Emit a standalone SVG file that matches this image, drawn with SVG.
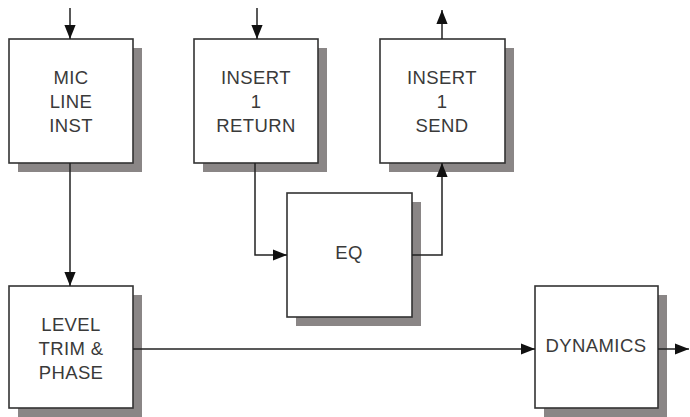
<svg xmlns="http://www.w3.org/2000/svg" width="690" height="417" viewBox="0 0 690 417">
<defs>
<style>
.box{fill:#fff;stroke:#333;stroke-width:1.6}
.sh{fill:#8a8686}
.t{font-family:"Liberation Sans",Arial,sans-serif;font-size:18.5px;letter-spacing:0.4px;fill:#3a3a3a;text-anchor:middle}
.c{fill:none;stroke:#222;stroke-width:1.5}
</style>
<marker id="ahl" viewBox="0 0 10 10" refX="10" refY="5" markerWidth="14" markerHeight="14" markerUnits="userSpaceOnUse" orient="auto"><path d="M0,1 L10,5 L0,9 Z" fill="#111"/></marker>
</defs>
<rect width="690" height="417" fill="#fff"/>
<g id="mic">
<rect class="sh" x="18" y="48" width="124" height="124"/>
<rect class="box" x="9" y="39" width="124" height="124"/>
<text class="t" x="71" y="84">MIC</text>
<text class="t" x="71" y="108">LINE</text>
<text class="t" x="71" y="132">INST</text>
</g>
<g id="ret">
<rect class="sh" x="203" y="48" width="124" height="124"/>
<rect class="box" x="194" y="39" width="124" height="124"/>
<text class="t" x="256" y="84">INSERT</text>
<text class="t" x="256" y="108">1</text>
<text class="t" x="256" y="132">RETURN</text>
</g>
<g id="send">
<rect class="sh" x="389" y="48" width="125" height="124"/>
<rect class="box" x="380" y="39" width="125" height="124"/>
<text class="t" x="442" y="84">INSERT</text>
<text class="t" x="442" y="108">1</text>
<text class="t" x="442" y="132">SEND</text>
</g>
<g id="eq">
<rect class="sh" x="296" y="202" width="125" height="124"/>
<rect class="box" x="287" y="193" width="125" height="124"/>
<text class="t" x="349" y="259">EQ</text>
</g>
<g id="level">
<rect class="sh" x="18" y="295" width="124" height="122"/>
<rect class="box" x="9" y="286" width="124" height="122"/>
<text class="t" x="71" y="331">LEVEL</text>
<text class="t" x="71" y="355">TRIM &amp;</text>
<text class="t" x="71" y="379">PHASE</text>
</g>
<g id="dyn">
<rect class="sh" x="544" y="295" width="123" height="122"/>
<rect class="box" x="535" y="286" width="123" height="122"/>
<text class="t" x="596" y="352">DYNAMICS</text>
</g>
<g id="connectors">
<path class="c" d="M70,8 V39" marker-end="url(#ahl)"/>
<path class="c" d="M257,8 V39" marker-end="url(#ahl)"/>
<path class="c" d="M442,39 V10" marker-end="url(#ahl)"/>
<path class="c" d="M70,163 V286" marker-end="url(#ahl)"/>
<path class="c" d="M255,163 V255 H287" marker-end="url(#ahl)"/>
<path class="c" d="M412,255 H442 V163" marker-end="url(#ahl)"/>
<path class="c" d="M133,349 H535" marker-end="url(#ahl)"/>
<path class="c" d="M658,349 H689" marker-end="url(#ahl)"/>
</g>
</svg>
